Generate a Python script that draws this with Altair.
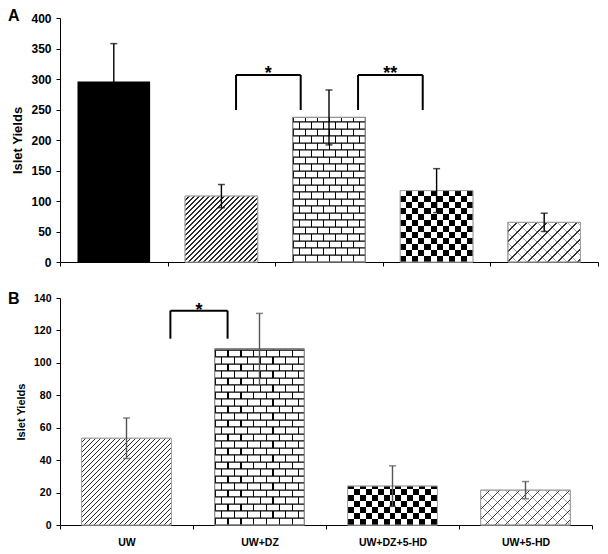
import math
import altair as alt
import pandas as pd

FONT = "Liberation Sans"
BAND = 0.675

# ---------------- data ----------------
cats_A = ["Control", "UW", "UW+DZ", "UW+DZ+5-HD", "UW+5-HD"]
vals_A = [296, 108, 237, 117, 65]
errs_A = [62, 19, 45, 36, 15]
pats_A = ["solid", "diag", "brick", "checker", "diagbrick"]

cats_B = ["UW", "UW+DZ", "UW+DZ+5-HD", "UW+5-HD"]
vals_B = [53.5, 108.5, 24, 21.5]
errs_B = [12.5, 22, 12.5, 5.3]
pats_B = ["diag", "brick", "checker", "diagbrick"]

# significance brackets
brA_left = ["UW", "UW+DZ"]
brA_left_pos = [0.636, 0.77]
brA_right = ["UW+DZ", "UW+DZ+5-HD"]
brA_right_pos = [0.237, 0.371]
brA_top = [306.6, 306.6]
brA_bottom = [249.2, 249.2]
brA_label = ["*", "**"]
brA_label_cat = ["UW", "UW+DZ+5-HD"]
brA_label_pos = [0.935, 0.07]
brA_label_y = [300, 300]

brB_left = ["UW"]
brB_left_pos = [0.83]
brB_right = ["UW+DZ"]
brB_right_pos = [0.26]
brB_top = [132.2]
brB_bottom = [114.9]
brB_label = ["*"]
brB_label_cat = ["UW+DZ"]
brB_label_pos = [0.045]
brB_label_y = [129.2]


# ---------------- pattern helpers ----------------
def seg_stops(segments, line, bg):
    stops = [{"offset": 0, "color": bg}]
    for a, b in segments:
        a = round(min(max(a, 0), 1), 6)
        b = round(min(max(b, 0), 1), 6)
        if b <= a:
            continue
        stops += [{"offset": a, "color": bg}, {"offset": a, "color": line},
                  {"offset": b, "color": line}, {"offset": b, "color": bg}]
    stops.append({"offset": 1, "color": bg})
    return stops


def diag_grad(w, h, period, line_px, line, bg, direction="/"):
    # 45-degree stripes, exact pixel period measured along x
    L = w + h
    s = L * w / (w * w + h * h)
    segs = []
    k = 0
    while k * period < L:
        a = (k * period + period - line_px) / L
        b = ((k + 1) * period) / L
        segs.append((a, b))
        k += 1
    stops = seg_stops(segs, line, bg)
    if direction == "/":
        x1, y1, x2, y2 = 0, 0, s, s * h / w
    else:
        x1, y1, x2, y2 = 0, 1, s, 1 - s * h / w
    return {"gradient": "linear", "x1": round(x1, 6), "y1": round(y1, 6),
            "x2": round(x2, 6), "y2": round(y2, 6), "stops": stops}


def hgrad(stops):
    return {"gradient": "linear", "x1": 0, "y1": 0, "x2": 1, "y2": 0, "stops": stops}


# ---------------- panel builder ----------------
def panel(cats, vals, errs, pats, W, H, ymax, ystep, letter, letter_dy,
          show_labels, label_fs, title_fs, title_pad, err_color,
          bl, blp, br, brp, btop, bbot, blab, blabc, blabp, blaby):
    df = pd.DataFrame({"cat": cats, "value": vals, "err": errs, "pat": pats})
    df["lo"] = df["value"] - df["err"]
    df["hi"] = df["value"] + df["err"]
    step = W / len(cats)
    bw = BAND * step
    ppu = H / ymax

    xscale = alt.Scale(domain=cats, paddingInner=0, paddingOuter=0)
    xaxis = alt.Axis(labels=show_labels, labelFontSize=label_fs, labelFontWeight="bold",
                     labelAngle=0, labelPadding=8, tickSize=4, tickBand="extent",
                     domainColor="black", tickColor="black", labelColor="black",
                     grid=False, title=None, labelFont=FONT)
    yscale = alt.Scale(domain=[0, ymax], nice=False)
    yaxis = alt.Axis(values=list(range(0, ymax + 1, ystep)), title="Islet Yields",
                     titleFontSize=title_fs, titleFontWeight="bold", titleFont=FONT,
                     labelFontSize=label_fs, labelFontWeight="bold", labelFont=FONT,
                     tickSize=4, labelPadding=5, titlePadding=title_pad, grid=False,
                     domainColor="black", tickColor="black", labelColor="black",
                     titleColor="black")

    def X(field="cat", bp=None):
        if bp is None:
            return alt.X(field, type="nominal", scale=xscale, axis=xaxis, title=None)
        return alt.X(field, type="nominal", scale=xscale, axis=xaxis, title=None,
                     bandPosition=bp)

    def Y(field):
        return alt.Y(field, type="quantitative", scale=yscale, axis=yaxis,
                     title="Islet Yields")

    base = alt.Chart(df)
    layers = []
    layers.append(base.transform_filter(alt.datum.pat == "solid")
                  .mark_bar(width={"band": BAND}, color="black")
                  .encode(x=X(), y=Y("value")))
    layers.append(base.transform_filter(alt.datum.pat != "solid")
                  .mark_bar(width={"band": BAND}, fill="white", stroke="#a0a0a0",
                            strokeWidth=1)
                  .encode(x=X(), y=Y("value")))

    clear = "rgba(255,255,255,0)"
    for c, v, p in zip(cats, vals, pats):
        sub = base.transform_filter(alt.datum.cat == c)
        h = v * ppu
        if p == "diag":
            g = diag_grad(bw, h, 5.0, 1.5, "#2a2a2a", "white", "/")
            layers.append(sub.mark_bar(width={"band": BAND}, color=g)
                          .encode(x=X(), y=Y("value")))
        elif p == "diagbrick":
            g1 = diag_grad(bw, h, 10.0, 1.5, "#333333", clear, "/")
            g2 = diag_grad(bw, h, 10.0, 1.0, "#a5a5a5", clear, "\\")
            layers.append(sub.mark_bar(width={"band": BAND}, color=g2)
                          .encode(x=X(), y=Y("value")))
            layers.append(sub.mark_bar(width={"band": BAND}, color=g1)
                          .encode(x=X(), y=Y("value")))
        elif p in ("brick", "checker"):
            if p == "brick":
                rh = 7.0 / ppu
                M = max(1, round(bw / 12.0))
                f = 0.1
                even = seg_stops([(j / M, (j + f) / M) for j in range(M)], "black", "white")
                odd = seg_stops([((j + 0.5) / M, (j + 0.5 + f) / M) for j in range(M)],
                                "black", "white")
                stroke_kw = dict(stroke="black", strokeWidth=1)
            else:
                rh = 6.0 / ppu
                Q = max(2, round(bw / 6.0))
                even = seg_stops([(j / Q, (j + 1) / Q) for j in range(0, Q, 2)], "black", "white")
                odd = seg_stops([(j / Q, (j + 1) / Q) for j in range(1, Q, 2)], "black", "white")
                stroke_kw = dict(strokeWidth=0)
            rows = (sub.transform_calculate(k=f"sequence(0, datum.value, {rh:.5f})")
                    .transform_flatten(["k"])
                    .transform_calculate(k2=f"min(datum.k + {rh:.5f}, datum.value)",
                                         par=f"round(datum.k / {rh:.5f}) % 2"))
            for par, g in ((0, even), (1, odd)):
                layers.append(rows.transform_filter(alt.datum.par == par)
                              .mark_bar(width={"band": BAND}, color=hgrad(g), **stroke_kw)
                              .encode(x=X(), y=Y("k"), y2=alt.Y2("k2")))

    # outline on top of patterned bars
    layers.append(base.transform_filter(alt.datum.pat != "solid")
                  .mark_bar(width={"band": BAND}, fillOpacity=0, stroke="#a0a0a0",
                            strokeWidth=1)
                  .encode(x=X(), y=Y("value")))

    # error bars
    layers.append(base.mark_rule(color=err_color, strokeWidth=1.4)
                  .encode(x=X(), y=Y("lo"), y2=alt.Y2("hi")))
    for f in ("hi", "lo"):
        layers.append(base.mark_tick(color=err_color, thickness=1.5, size=7)
                      .encode(x=X(), y=Y(f)))

    # significance brackets
    for i in range(len(bl)):
        bdf = pd.DataFrame({"c1": [bl[i]], "c2": [br[i]], "top": [btop[i]],
                            "bot": [bbot[i]], "lab": [blab[i]], "lc": [blabc[i]],
                            "ly": [blaby[i]]})
        bc = alt.Chart(bdf)
        layers.append(bc.mark_rule(color="black", strokeWidth=2)
                      .encode(x=X("c1", blp[i]),
                              x2=alt.X2("c2", bandPosition=brp[i]),
                              y=Y("top")))
        layers.append(bc.mark_rule(color="black", strokeWidth=2)
                      .encode(x=X("c1", blp[i]), y=Y("bot"), y2=alt.Y2("top")))
        layers.append(bc.mark_rule(color="black", strokeWidth=2)
                      .encode(x=X("c2", brp[i]), y=Y("bot"), y2=alt.Y2("top")))
        layers.append(bc.mark_text(fontSize=18, fontWeight="bold", font=FONT,
                                   baseline="alphabetic", align="center", color="black")
                      .encode(x=X("lc", blabp[i]), y=Y("ly"), text="lab:N"))

    # panel letter
    layers.append(alt.Chart(pd.DataFrame({"t": [letter]}))
                  .mark_text(align="left", baseline="alphabetic", fontSize=16,
                             fontWeight="bold", font=FONT, color="black")
                  .encode(text="t:N", x=alt.value(-52), y=alt.value(letter_dy)))

    return alt.layer(*layers).properties(width=W, height=H)


pA = panel(cats_A, vals_A, errs_A, pats_A, 538, 244, 400, 50, "A", 3,
           False, 12, 13, 6, "black",
           brA_left, brA_left_pos, brA_right, brA_right_pos, brA_top, brA_bottom,
           brA_label, brA_label_cat, brA_label_pos, brA_label_y)
pB = panel(cats_B, vals_B, errs_B, pats_B, 532, 227, 140, 20, "B", 5.7,
           True, 10.5, 11, 7, "#555555",
           brB_left, brB_left_pos, brB_right, brB_right_pos, brB_top, brB_bottom,
           brB_label, brB_label_cat, brB_label_pos, brB_label_y)

chart = (alt.vconcat(pA, pB, spacing=22)
         .properties(padding={"left": 0, "top": 0, "right": 0, "bottom": 0})
         .configure_view(stroke=None)
         .configure_text(font=FONT))

chart.save("out.html", embed_options={"renderer": "svg", "actions": False})
